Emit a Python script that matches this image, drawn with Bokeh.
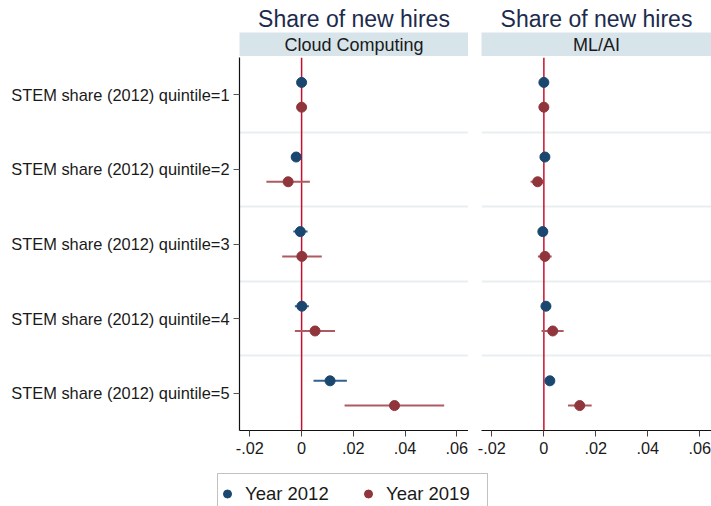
from bokeh.plotting import figure
from bokeh.layouts import column, row
from bokeh.models import (Range1d, FixedTicker, CustomJSTickFormatter, Span, Grid,
                          Label, Legend, LegendItem, BoxAnnotation)
from bokeh.embed import file_html
from bokeh.resources import INLINE

# ---- data -----------------------------------------------------------------
quintiles = [1, 2, 3, 4, 5]
quintile_labels = ["STEM share (2012) quintile=%d" % q for q in quintiles]
panel_names = ["Cloud Computing", "ML/AI"]
x_ticks = [-0.02, 0.0, 0.02, 0.04, 0.06]
series_names = ["Year 2012", "Year 2019"]

# Cloud Computing: point estimates and 95% CI bounds
cloud_2012 = [0.0000, -0.0021, -0.0005, 0.0001, 0.0110]
cloud_2012_lo = [-0.0004, -0.0038, -0.0032, -0.0026, 0.0046]
cloud_2012_hi = [0.0004, -0.0005, 0.0023, 0.0028, 0.0175]
cloud_2019 = [0.0000, -0.0052, 0.0001, 0.0052, 0.0359]
cloud_2019_lo = [-0.0005, -0.0136, -0.0075, -0.0026, 0.0166]
cloud_2019_hi = [0.0005, 0.0032, 0.0078, 0.0129, 0.0551]

# ML/AI
mlai_2012 = [0.0000, 0.0004, -0.0004, 0.0008, 0.0023]
mlai_2012_lo = [-0.0003, 0.0001, -0.0007, 0.0005, 0.0019]
mlai_2012_hi = [0.0003, 0.0007, -0.0001, 0.0011, 0.0027]
mlai_2019 = [0.0000, -0.0024, 0.0004, 0.0034, 0.0138]
mlai_2019_lo = [-0.0004, -0.0051, -0.0023, -0.0009, 0.0093]
mlai_2019_hi = [0.0004, -0.0006, 0.0030, 0.0076, 0.0184]

# ---- styling ----------------------------------------------------------------
FONT = "Liberation Sans"
BLUE = "#1a476f"
BLUE_CI = "#33608c"
RED = "#90353b"
RED_CI = "#ad5a60"
ZERO = "#c8102e"
GRID = "#e8eff1"
STRIP = "#d7e4ea"
TITLE = "#1c2b4d"
TEXT = "#1a1a1a"
X_RANGE = (-0.024, 0.0645)
OFFSET = 0.166  # vertical shift of each year within a quintile row

tick_fmt = CustomJSTickFormatter(code="""
    if (Math.abs(tick) < 1e-12) { return '0'; }
    return tick.toFixed(2).replace('0.', '.');
""")


def strip(name, width, left):
    s = figure(width=width, height=56, x_range=Range1d(0, 1), y_range=Range1d(0, 1),
               x_axis_type=None, y_axis_type=None, title="Share of new hires",
               min_border_left=left, min_border_right=0, min_border_top=32,
               min_border_bottom=0, output_backend="svg", toolbar_location=None)
    s.outline_line_color = None
    s.background_fill_color = STRIP
    s.border_fill_color = "white"
    s.title.text_font = FONT
    s.title.text_font_size = "23px"
    s.title.text_font_style = "normal"
    s.title.text_color = TITLE
    s.title.align = "center"
    s.title.standoff = 1
    s.add_layout(Label(x=0.5, y=0.5, text=name, text_align="center",
                       text_baseline="middle", text_font=FONT,
                       text_font_size="18px", text_color=TEXT))
    return s


def panel(series, width, left, show_y):
    p = figure(width=width, height=404, x_range=Range1d(*X_RANGE),
               y_range=Range1d(5.5, 0.5),
               y_axis_location="left" if show_y else None,
               min_border_left=left, min_border_right=0, min_border_top=1,
               min_border_bottom=30, output_backend="svg", toolbar_location=None)
    p.outline_line_color = None
    p.background_fill_color = "white"
    p.grid.visible = False
    p.add_layout(Grid(dimension=1, ticker=FixedTicker(ticks=[1.5, 2.5, 3.5, 4.5]),
                      grid_line_color=GRID, grid_line_width=2))
    p.add_layout(Span(location=0, dimension="height", line_color=ZERO,
                      line_width=1.5, level="underlay"))

    for (est, lo, hi), off, col, ci_col in zip(series, (-OFFSET, OFFSET),
                                               (BLUE, RED), (BLUE_CI, RED_CI)):
        ys = [q + off for q in quintiles]
        p.segment(x0=lo, y0=ys, x1=hi, y1=ys, line_color=ci_col, line_width=2)
        p.scatter(x=est, y=ys, size=10, marker="circle", fill_color=col,
                  line_color=col)

    xa = p.xaxis[0]
    xa.ticker = FixedTicker(ticks=x_ticks)
    xa.formatter = tick_fmt
    xa.major_label_text_font = FONT
    xa.major_label_text_font_size = "16.3px"
    xa.major_label_text_color = TEXT
    xa.axis_line_color = "#111111"
    xa.axis_line_width = 1.2
    xa.major_tick_line_color = "#444444"
    xa.major_tick_out = 6
    xa.major_tick_in = 0
    xa.minor_tick_out = 0
    xa.minor_tick_in = 0
    xa.major_label_standoff = 5

    if show_y:
        ya = p.yaxis[0]
        ya.ticker = FixedTicker(ticks=quintiles)
        ya.major_label_overrides = {q: lab for q, lab in zip(quintiles, quintile_labels)}
        ya.major_label_text_font = FONT
        ya.major_label_text_font_size = "16.4px"
        ya.major_label_text_color = TEXT
        ya.axis_line_color = "#111111"
        ya.axis_line_width = 1.2
        ya.major_tick_line_color = "#555555"
        ya.major_tick_out = 6
        ya.major_tick_in = 0
        ya.minor_tick_out = 0
        ya.minor_tick_in = 0
        ya.major_label_standoff = 4
    return p


s1 = strip(panel_names[0], 468, 239)
s2 = strip(panel_names[1], 243, 13)
p1 = panel([(cloud_2012, cloud_2012_lo, cloud_2012_hi),
            (cloud_2019, cloud_2019_lo, cloud_2019_hi)], 468, 239, True)
p2 = panel([(mlai_2012, mlai_2012_lo, mlai_2012_hi),
            (mlai_2019, mlai_2019_lo, mlai_2019_hi)], 243, 13, False)

# Shared key across the bottom. Its renderers carry the series values, but the
# strip's y range lies below the quintile rows, so only the key itself shows.
lf = figure(width=711, height=46, x_range=Range1d(*X_RANGE), y_range=Range1d(10, 11),
            x_axis_type=None, y_axis_type=None,
            min_border=0, output_backend="svg", toolbar_location=None)
lf.outline_line_color = None
lf.grid.visible = False
# pixel-like ranges for the key's frame
lf.extra_x_ranges = {"px": Range1d(0, 711)}
lf.extra_y_ranges = {"px": Range1d(46, 0)}
r12 = lf.scatter(x=cloud_2012, y=quintiles, size=10, marker="circle",
                 fill_color=BLUE, line_color=BLUE)
r19 = lf.scatter(x=cloud_2019, y=quintiles, size=10, marker="circle",
                 fill_color=RED, line_color=RED)
lf.add_layout(BoxAnnotation(left=217, right=487, top=13, bottom=70,
                            x_range_name="px", y_range_name="px",
                            fill_color="white", fill_alpha=1,
                            line_color="#333333", line_width=1, level="underlay"))
legend = Legend(items=[LegendItem(label=series_names[0], renderers=[r12]),
                       LegendItem(label=series_names[1], renderers=[r19])],
                orientation="horizontal", location=(217, -6), padding=1,
                glyph_width=20, glyph_height=37, label_height=37, label_width=98,
                label_standoff=8, spacing=15, border_line_color=None,
                label_text_font=FONT,
                label_text_font_size="18.5px", label_text_color=TEXT,
                background_fill_alpha=0)
lf.add_layout(legend, "center")

layout = column(row(s1, s2), row(p1, p2), lf)

open("out.html", "w").write(file_html(layout, INLINE))
